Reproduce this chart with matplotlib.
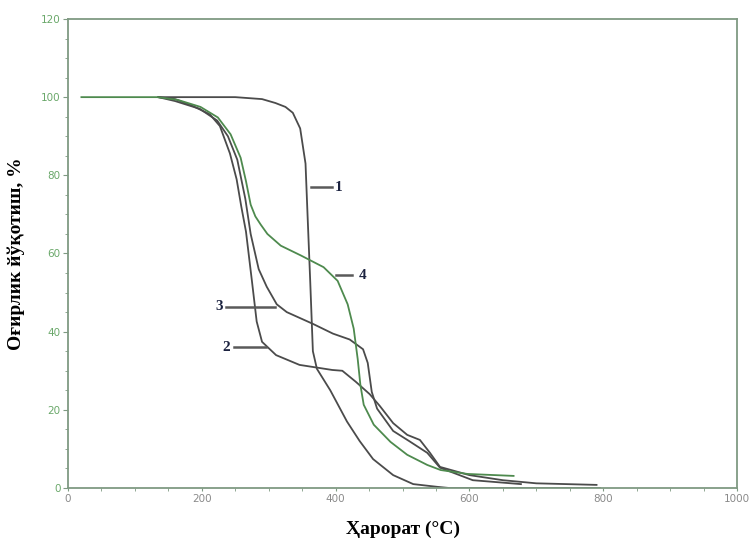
import matplotlib
matplotlib.use("Agg")
import matplotlib.pyplot as plt
from matplotlib.ticker import MultipleLocator

# curve 1
t1 = [135, 250, 290, 310, 325, 336, 347, 355, 358, 362, 366, 372, 392, 417, 436, 456, 486, 516, 552, 570, 795]
w1 = [100, 100, 99.5, 98.5, 97.5, 96, 92, 83, 70, 53, 35, 30.5, 25, 17, 12, 7.4, 3.3, 1, 0.3, 0, 0]

# curve 2
t2 = [135, 160, 187, 212, 227, 242, 252, 259, 266, 275, 282, 290, 311, 346, 395, 410, 430, 451, 466,
      486, 507, 526, 541, 556, 600, 650, 700, 790]
w2 = [100, 99.5, 97.7, 95.6, 92.6, 85.6, 79, 72, 65.6, 52.8, 42.6, 37.4, 34, 31.5, 30.2, 30, 27.2, 24, 21,
      16.6, 13.6, 12.3, 9, 5.4, 3.3, 2, 1.2, 0.8]

# curve 3
t3 = [135, 160, 197, 223, 239, 253, 265, 273, 285, 297, 312, 327, 366, 396, 421, 441, 448, 454, 462,
      486, 510, 537, 556, 605, 677]
w3 = [100, 99, 97, 94, 90, 84, 74, 65, 56, 51.5, 47, 45, 42, 39.5, 38, 35.5, 32, 24.6, 20.3,
      14.6, 12, 9, 5.2, 2, 1]

# curve 4
t4 = [20, 134, 164, 198, 224, 243, 258, 266, 273, 280, 288, 298, 318, 348, 382, 403, 418, 427, 433, 437,
      442, 457, 482, 507, 537, 557, 597, 666]
w4 = [100, 100, 99.3, 97.5, 94.8, 90.5, 84.5, 78.5, 72.5, 69.5, 67.4, 65, 62, 59.5, 56.5, 53, 47, 40.8, 33, 26.4,
      21.3, 16.2, 11.8, 8.5, 5.9, 4.6, 3.6, 3.1]

# labels: text, text position, leader start/end (x), leader y
lab_txt = ["1", "2", "3", "4"]
lab_x = [404, 236, 226, 440]
lab_y = [77, 36, 46.4, 54.4]
lead_x0 = [363, 248, 236, 400]
lead_x1 = [395, 296, 310, 425]

dark = "#4b4b4b"
green = "#4e8a4e"
frame = "#7f9a82"
serif = ["Liberation Serif", "DejaVu Serif"]

fig = plt.figure(figsize=(7.5, 5.42), dpi=100)
ax = fig.add_axes([0.0907, 0.0996, 0.8920, 0.8654])

ax.plot(t1, w1, color=dark, lw=1.3)
ax.plot(t2, w2, color=dark, lw=1.3)
ax.plot(t3, w3, color=dark, lw=1.3)
ax.plot(t4, w4, color=green, lw=1.3)

for i in range(len(lab_txt)):
    ax.plot([lead_x0[i], lead_x1[i]], [lab_y[i], lab_y[i]], color="#5a5a5a", lw=1.8)
    ax.text(lab_x[i], lab_y[i], lab_txt[i], family=serif,
            fontsize=11, fontweight="bold", color="#1c2340", ha="center", va="center")

ax.set_xlim(0, 1000)
ax.set_ylim(0, 120)
ax.xaxis.set_major_locator(MultipleLocator(200))
ax.xaxis.set_minor_locator(MultipleLocator(50))
ax.yaxis.set_major_locator(MultipleLocator(20))
ax.yaxis.set_minor_locator(MultipleLocator(5))

for s in ax.spines.values():
    s.set_color(frame)
    s.set_linewidth(1.3)

ax.tick_params(axis="x", which="both", direction="out", length=2.5, color=frame,
               labelsize=7.5, labelcolor="#8a8a8a", pad=2)
ax.tick_params(axis="y", which="major", direction="out", length=3.5, color=frame,
               labelsize=7.5, labelcolor="#6aa86a", pad=2)
ax.tick_params(axis="y", which="minor", direction="out", length=2.5, color=frame)

ax.set_xlabel("Ҳарорат (°C)", family=serif, fontsize=14, fontweight="bold", labelpad=12)
ax.set_ylabel("Оғирлик йўқотиш, %", family=serif, fontsize=14, fontweight="bold", labelpad=11)

fig.savefig("out.png", dpi=100)
